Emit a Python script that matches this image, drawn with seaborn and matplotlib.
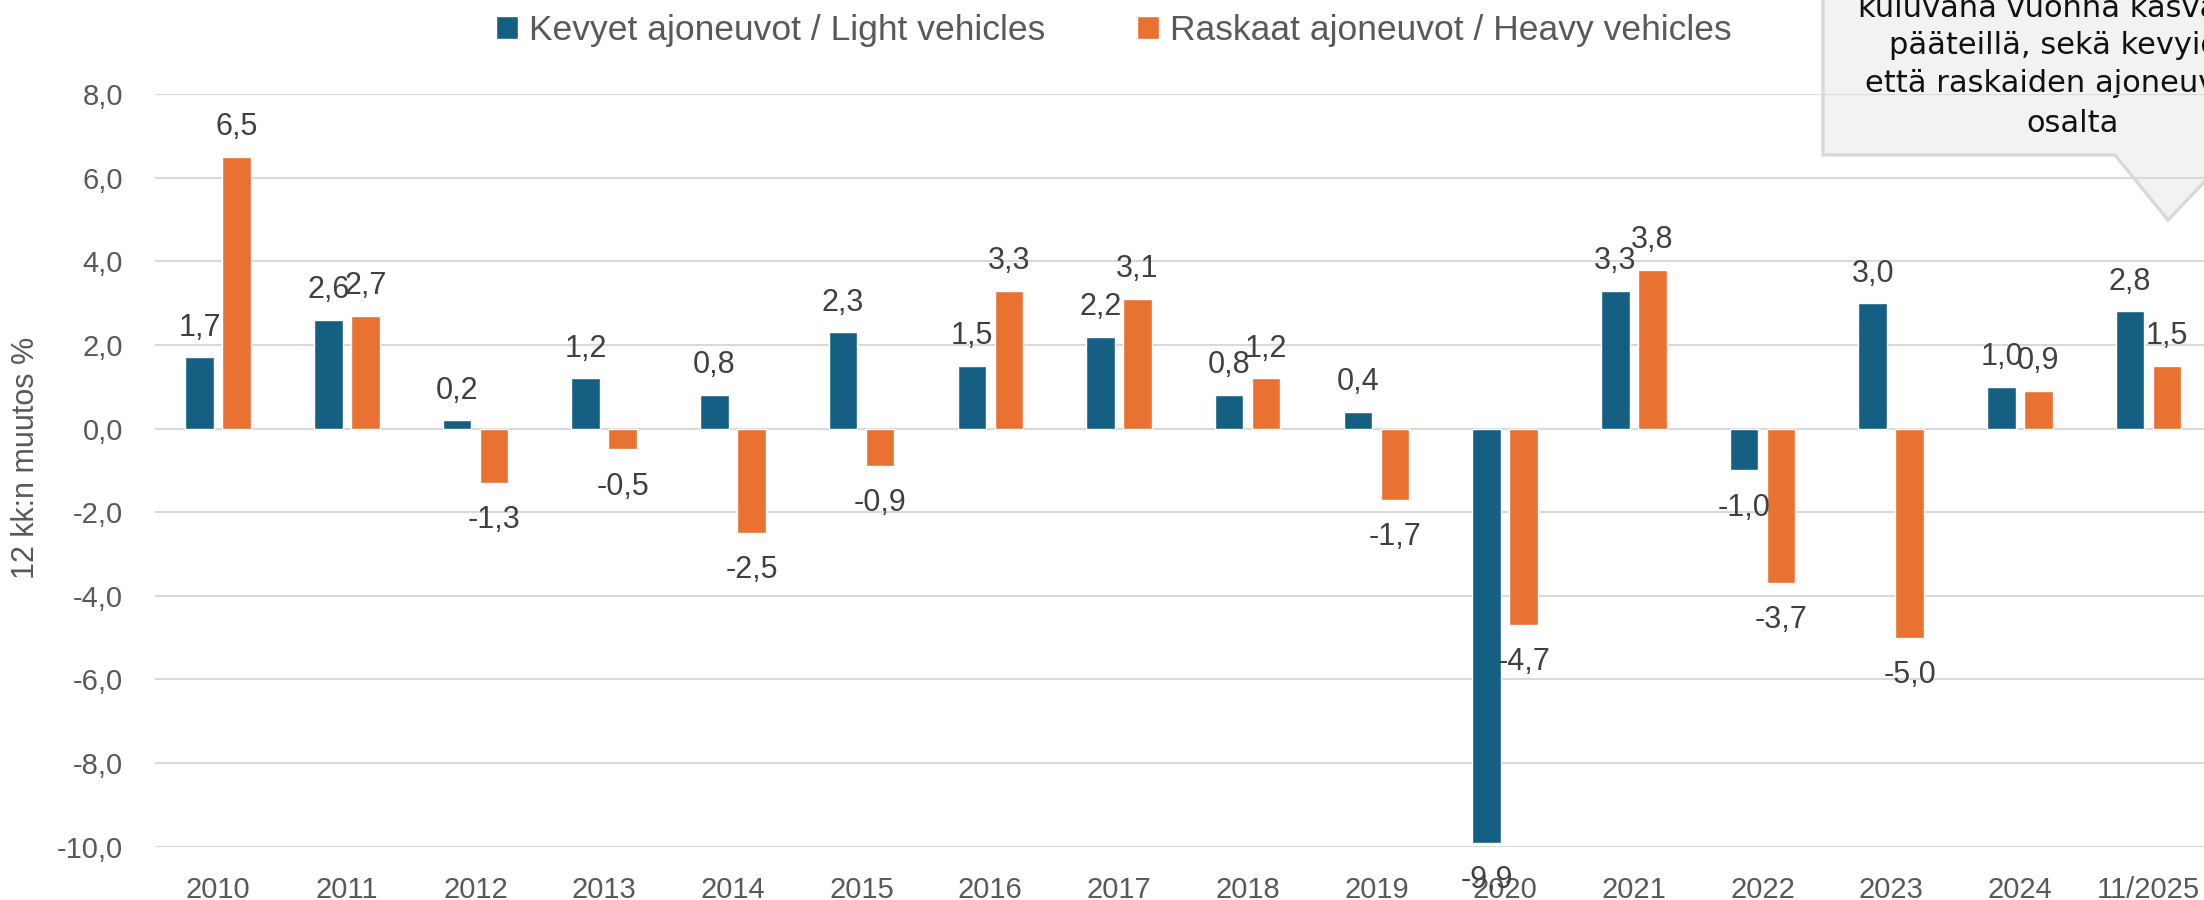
import matplotlib
matplotlib.use("Agg")
import matplotlib.pyplot as plt
from matplotlib.patches import Polygon
import seaborn as sns
import pandas as pd

# ---- data ----
categories = ["2010", "2011", "2012", "2013", "2014", "2015", "2016", "2017",
              "2018", "2019", "2020", "2021", "2022", "2023", "2024", "11/2025"]
light_vehicles = [1.7, 2.6, 0.2, 1.2, 0.8, 2.3, 1.5, 2.2, 0.8, 0.4, -9.9, 3.3, -1.0, 3.0, 1.0, 2.8]
heavy_vehicles = [6.5, 2.7, -1.3, -0.5, -2.5, -0.9, 3.3, 3.1, 1.2, -1.7, -4.7, 3.8, -3.7, -5.0, 0.9, 1.5]
series_names = ["Kevyet ajoneuvot / Light vehicles", "Raskaat ajoneuvot / Heavy vehicles"]
y_ticks = [-10, -8, -6, -4, -2, 0, 2, 4, 6, 8]
y_label = "12 kk:n muutos %"
callout_lines = ["kuluvana vuonna kasvaneet", "pääteillä, sekä kevyiden",
                 "että raskaiden ajoneuvojen", "osalta"]

colors = ["#156082", "#E97132"]
GRID = "#d9d9d9"
TICK_C = "#595959"
LABEL_C = "#404040"

sns.set_theme(style="white")
plt.rcParams["font.family"] = ["Liberation Sans", "DejaVu Sans"]

W, H = 2204, 900
fig = plt.figure(figsize=(W / 100, H / 100), dpi=100)
fig.patch.set_facecolor("white")


def P(x, y):
    return (x / W, 1 - y / H)


ax_left, ax_right, ax_top, ax_bottom = 155, 2213, 94, 846.7
ax = fig.add_axes([ax_left / W, (H - ax_bottom) / H, (ax_right - ax_left) / W, (ax_bottom - ax_top) / H])
ax.patch.set_alpha(0)

df = pd.DataFrame({
    "year": categories * 2,
    "value": light_vehicles + heavy_vehicles,
    "series": [series_names[0]] * len(categories) + [series_names[1]] * len(categories),
})

sns.barplot(data=df, x="year", y="value", hue="series", order=categories,
            hue_order=series_names, palette=colors, width=0.575, gap=0.23,
            saturation=1, ax=ax, legend=True)

handles, labels = ax.get_legend_handles_labels()
ax.get_legend().remove()

ax.set_ylim(-10, 8)
ax.set_xlim(-0.49, 15.5)
ax.set_yticks(y_ticks)
ax.set_yticklabels([f"{t:.1f}".replace(".", ",") for t in y_ticks])
ax.tick_params(axis="y", length=0, pad=23, labelsize=21, labelcolor=TICK_C)
ax.tick_params(axis="x", length=0, pad=21, labelsize=21, labelcolor=TICK_C)
ax.set_xlabel("")
ax.set_ylabel("")
for s in ax.spines.values():
    s.set_visible(False)
ax.yaxis.grid(True, color=GRID, linewidth=1.5)
ax.xaxis.grid(False)
ax.set_axisbelow(True)

# data labels
for cont, vals in zip(ax.containers, [light_vehicles, heavy_vehicles]):
    for bar, v in zip(cont, vals):
        xc = bar.get_x() + bar.get_width() / 2
        txt = f"{v:.1f}".replace(".", ",")
        if v >= 0:
            ax.annotate(txt, (xc, v), xytext=(0, 10.5), textcoords="offset points",
                        ha="center", va="bottom", fontsize=22, color=LABEL_C,
                        annotation_clip=False)
        else:
            ax.annotate(txt, (xc, v), xytext=(0, -16), textcoords="offset points",
                        ha="center", va="top", fontsize=22, color=LABEL_C,
                        annotation_clip=False)

# y label
fig.text(*P(26, 458), y_label, rotation=90, ha="center", va="center",
         fontsize=22, color=TICK_C)

# legend
fig.legend(handles, labels, loc="center", bbox_to_anchor=P(1114, 30.5), ncol=2,
           frameon=False, fontsize=25.5, handlelength=0.6, handleheight=0.6,
           handletextpad=0.32, columnspacing=2.6, labelcolor=TICK_C,
           borderaxespad=0, borderpad=0)

# callout
pts = [P(1823, -20), P(1823, 155), P(2115, 155), P(2168, 220), P(2230, 155),
       P(2350, 155), P(2350, -20)]
poly = Polygon(pts, closed=True, transform=fig.transFigure, facecolor="#f2f2f2",
               edgecolor="#d9d9d9", linewidth=2.4, zorder=-2)
fig.patches.append(poly)
baselines = [16.7, 54.3, 91.7, 131.7]
for line, yb in zip(callout_lines, baselines):
    fig.text(*P(2073, yb), line, ha="center", va="baseline", fontsize=22,
             family="DejaVu Sans", color="#111111", zorder=-1)

fig.savefig("out.png", dpi=100)
